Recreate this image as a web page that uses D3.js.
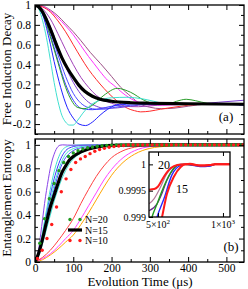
<!DOCTYPE html>
<html>
<head>
<meta charset="utf-8">
<script src="https://cdn.jsdelivr.net/npm/d3@7"></script>
<style>
  body { margin: 0; background: #fff; }
  svg { display: block; }
</style>
</head>
<body>
<div id="chart"></div>
<script>
// ---- data: free induction decay (panel a), [time µs, value] ----
const fidTurquoise = [[0,1],[10,0.96],[20,0.84],[30,0.67],[40,0.45],[50,0.22],[60,0.03],[70,-0.11],[80,-0.18],[90,-0.21],[100,-0.21],[110,-0.17],[125,-0.09],[145,-0.01],[170,0.04],[200,0.065],[240,0.07],[280,0.055],[310,0.03],[340,0.005],[380,-0.005],[450,0],[546,0]]
const fidBlue1 = [[0,1],[20,0.9],[37,0.66],[50,0.43],[67,0.17],[84,-0.03],[100,-0.14],[115,-0.2],[132,-0.215],[150,-0.18],[170,-0.11],[190,-0.05],[220,0],[260,0.01],[350,0],[450,0.005],[500,0],[546,-0.01]]
const fidBlue2 = [[0,1],[20,0.92],[40,0.7],[60,0.44],[80,0.2],[100,0.04],[115,-0.03],[130,-0.05],[150,-0.055],[170,-0.045],[200,-0.02],[240,0],[300,0.01],[400,0],[546,0]]
const fidBlue3 = [[0,1],[20,0.93],[40,0.74],[60,0.5],[80,0.28],[100,0.11],[120,0.01],[140,-0.035],[160,-0.05],[180,-0.05],[210,-0.03],[250,-0.01],[300,0],[546,0]]
const fidGreen = [[0,1],[20,0.91],[40,0.68],[60,0.42],[80,0.17],[95,0.04],[110,-0.03],[128,-0.045],[150,-0.01],[180,0.09],[215,0.16],[250,0.12],[285,0.04],[320,0],[345,0],[370,0.03],[395,0.05],[420,0.035],[450,0.01],[500,0],[546,0]]
const fidIndigo = [[0,1],[20,0.94],[40,0.78],[60,0.58],[80,0.38],[100,0.22],[120,0.1],[140,0.02],[160,-0.02],[180,-0.04],[200,-0.04],[230,-0.03],[270,-0.01],[320,0],[400,0],[480,0.02],[546,0.04]]
const fidPurple = [[0,1],[20,0.96],[40,0.86],[60,0.71],[80,0.55],[100,0.4],[120,0.27],[140,0.17],[160,0.09],[180,0.04],[200,0.01],[230,-0.02],[270,-0.025],[320,-0.01],[380,0],[546,0]]
const fidRed = [[0,1],[20,0.98],[40,0.93],[60,0.84],[80,0.73],[100,0.6],[120,0.47],[140,0.35],[160,0.25],[180,0.16],[206,0.06],[225,0],[241,-0.04],[260,-0.065],[276,-0.077],[300,-0.07],[328,-0.05],[363,-0.03],[400,-0.01],[450,0],[546,0]]
const fidMagenta = [[0,1],[20,0.985],[40,0.94],[60,0.87],[80,0.79],[100,0.7],[120,0.59],[140,0.48],[154,0.41],[170,0.33],[190,0.24],[206,0.19],[230,0.11],[258,0.04],[280,0.01],[302,-0.01],[340,-0.01],[400,0],[546,0]]
const fidMaroon = [[0,1],[20,0.99],[40,0.95],[60,0.89],[80,0.81],[100,0.73],[120,0.64],[145,0.52],[171,0.41],[200,0.28],[224,0.17],[250,0.08],[276,0],[300,-0.03],[330,-0.045],[363,-0.04],[400,-0.02],[450,0],[546,0]]
const fidBlack = [[0,1],[10,0.98],[20,0.93],[30,0.85],[40,0.76],[50,0.66],[60,0.56],[70,0.47],[85,0.36],[100,0.27],[115,0.19],[130,0.13],[150,0.08],[170,0.05],[200,0.03],[250,0.015],[300,0.01],[400,0.005],[546,0]]

// ---- data: entanglement entropy (panel b) ----
const entViolet = [[0,0],[5,0.04],[10,0.12],[15,0.24],[20,0.37],[25,0.5],[30,0.61],[35,0.71],[40,0.8],[45,0.87],[50,0.92],[55,0.96],[60,0.985],[65,0.997],[72,1],[85,0.998],[110,0.997],[150,0.999],[546,1]]
const entTurquoise1 = [[0,0],[10,0.1],[20,0.26],[30,0.44],[40,0.62],[50,0.77],[60,0.88],[70,0.95],[80,0.98],[95,0.995],[120,1],[546,1]]
const entBlue1 = [[0,0],[10,0.09],[20,0.24],[30,0.41],[40,0.57],[50,0.71],[60,0.82],[70,0.9],[80,0.95],[95,0.98],[120,0.995],[160,1],[546,1]]
const entTurquoise2 = [[0,0],[10,0.08],[20,0.22],[30,0.37],[40,0.52],[50,0.66],[60,0.77],[70,0.86],[80,0.92],[95,0.96],[120,0.985],[160,0.997],[546,1]]
const entBlue2 = [[0,0],[10,0.08],[20,0.2],[30,0.34],[40,0.49],[50,0.62],[60,0.74],[70,0.83],[80,0.89],[95,0.94],[120,0.975],[160,0.99],[220,1],[546,1]]
const entTurquoise3 = [[0,0],[10,0.06],[20,0.16],[30,0.28],[40,0.4],[50,0.52],[60,0.62],[70,0.71],[80,0.78],[95,0.86],[120,0.93],[160,0.975],[220,0.995],[546,1]]
const entRed = [[0,0],[20,0.04],[40,0.1],[60,0.18],[80,0.27],[100,0.37],[120,0.5],[140,0.62],[160,0.73],[180,0.82],[200,0.89],[230,0.95],[260,0.98],[300,0.995],[350,1],[546,1]]
const entMagenta = [[0,0],[20,0.03],[40,0.07],[60,0.13],[80,0.2],[100,0.27],[120,0.37],[140,0.48],[160,0.59],[180,0.7],[200,0.79],[230,0.89],[260,0.95],[300,0.985],[350,0.997],[546,1]]
const entOrange = [[0,0],[20,0.02],[40,0.06],[60,0.11],[80,0.17],[100,0.23],[120,0.32],[140,0.42],[160,0.53],[180,0.64],[200,0.74],[230,0.85],[260,0.92],[300,0.97],[350,0.99],[400,1],[546,1]]
const entN15 = [[0,0],[10,0.08],[20,0.2],[30,0.34],[40,0.47],[50,0.57],[60,0.67],[70,0.76],[80,0.82],[90,0.87],[100,0.9],[120,0.94],[140,0.965],[160,0.98],[180,0.99],[220,0.997],[300,1],[546,1]]

// dotted series N=20 and N=10
const n20Times = [0,12.5,25,37.5,50,62.5,75,87.5,100,112.5,125,137.5,150,162.5,175,187.5,200,212.5,225,237.5,250,262.5,275,287.5,300,312.5,325,337.5,350,362.5,375,387.5,400,412.5,425,437.5,450,462.5,475,487.5,500,512.5,525,537.5]
const n20Values = [0,0.16,0.37,0.54,0.67,0.78,0.85,0.9,0.93,0.95,0.965,0.975,0.982,0.988,0.992,0.996,0.998,1,1,1,1,1,1,1,1,1,1,1,1,1,1,1,1,1,1,1,1,1,1,1,1,1,1,1]
const n10Times = [6.25,18.75,31.25,43.75,56.25,68.75,81.25,93.75,106.25,118.75,131.25,143.75,156.25,168.75,181.25,193.75,206.25,218.75,231.25,243.75,256.25,268.75,281.25,293.75,306.25,318.75,331.25,343.75,356.25,368.75,381.25,393.75,406.25,418.75,431.25,443.75,456.25,468.75,481.25,493.75,506.25,518.75,531.25,543.75]
const n10Values = [0.03,0.1,0.2,0.32,0.47,0.6,0.71,0.79,0.85,0.88,0.9,0.925,0.945,0.96,0.97,0.98,0.985,0.99,0.995,1,1,1,1,1,1,1,1,1,1,1,1,1,1,1,1,1,1,1,1,1,1,1,1,1]

// ---- data: inset, late-time entropy ----
const insetRed1 = [[454,0.99952],[480,0.99953],[500,0.99958],[533,0.99977],[573,0.99993],[614,0.99999],[660,1],[703,1.00001],[783,0.99998],[871,0.99999],[918,1],[1078,1]]
const insetMaroon = [[454,0.99925],[480,0.99935],[511,0.99955],[550,0.99983],[593,0.99996],[637,1],[703,1],[783,0.99997],[871,0.99998],[918,1],[1078,1]]
const insetIndigo = [[454,0.99912],[495,0.99925],[522,0.99945],[550,0.9997],[593,0.99992],[637,1],[703,1],[783,0.99997],[871,0.99997],[918,1],[1078,1]]
const insetGreen = [[455,0.9988],[469,0.999],[495,0.99925],[522,0.9995],[573,0.99985],[614,0.99998],[660,1],[783,0.99997],[871,0.99998],[918,1],[1078,1]]
const insetBlue = [[480,0.9988],[495,0.999],[533,0.99935],[580,0.9998],[637,0.99998],[672,1],[783,0.99996],[871,0.99997],[918,1],[1078,1]]
const insetRed2 = [[510,0.9988],[522,0.999],[550,0.99944],[593,0.99977],[637,0.99995],[672,1],[703,1],[783,0.99998],[871,0.99999],[918,1],[1078,1]]

// ticks
const xMajor = [0, 100, 200, 300, 400, 500]
const xMinor = [50, 150, 250, 350, 450]
const topMajor = [-0.2, 0, 0.2, 0.4, 0.6, 0.8, 1]
const topMinor = [-0.3, -0.1, 0.1, 0.3, 0.5, 0.7, 0.9]
const botMajor = [0, 0.2, 0.4, 0.6, 0.8, 1]
const botMinor = [0.1, 0.3, 0.5, 0.7, 0.9]
const insetYTicks = [0.999, 0.9995, 1]
const insetYLabels = ['0.999', '0.9995', '1']

const serif = "'Liberation Serif', 'DejaVu Serif', serif"
const width = 248, height = 289

const svg = d3.select('#chart').append('svg')
  .attr('width', width)
  .attr('height', height)
  .style('font-family', serif)

const x = d3.scaleLinear().domain([0, 546]).range([35, 244])
const yTop = d3.scaleLinear().domain([-0.3, 1]).range([134, 5])
const yBot = d3.scaleLinear().domain([0, 1.05]).range([262, 139])

function clip(id, x0, y0, w, h) {
  svg.append('clipPath').attr('id', id)
    .append('rect').attr('x', x0).attr('y', y0).attr('width', w).attr('height', h)
}
clip('clipTop', 35, 5, 209, 129)
clip('clipBot', 35, 139, 209, 123)

function drawCurves(g, y, list, xs) {
  const line = d3.line()
    .x(d => xs(d[0]))
    .y(d => y(d[1]))
    .curve(d3.curveMonotoneX)
  list.forEach(s => {
    g.append('path')
      .attr('d', line(s.data))
      .attr('fill', 'none')
      .attr('stroke', s.color)
      .attr('stroke-width', s.w || 1)
  })
}

function styleAxis(g, size) {
  g.attr('font-family', serif).attr('font-size', size)
  g.select('.domain').remove()
  g.selectAll('line').attr('stroke', '#000').attr('stroke-width', 1)
}

function drawFrame(y, yMajor, yMinor, yFmt, showX) {
  const [yb, yt] = y.range()
  const ax = svg.append('g')
  // bottom
  ax.append('g').attr('transform', `translate(0,${yb})`)
    .call(d3.axisBottom(x).tickValues(xMajor).tickSize(-5).tickPadding(2)
      .tickFormat(showX ? d3.format('d') : () => ''))
    .call(g => styleAxis(g, 11.5))
  ax.append('g').attr('transform', `translate(0,${yb})`)
    .call(d3.axisBottom(x).tickValues(xMinor).tickSize(-3).tickFormat(() => ''))
    .call(g => styleAxis(g, 11.5))
  // top
  ax.append('g').attr('transform', `translate(0,${yt})`)
    .call(d3.axisTop(x).tickValues(xMajor).tickSize(-5).tickFormat(() => ''))
    .call(g => styleAxis(g, 11.5))
  ax.append('g').attr('transform', `translate(0,${yt})`)
    .call(d3.axisTop(x).tickValues(xMinor).tickSize(-3).tickFormat(() => ''))
    .call(g => styleAxis(g, 11.5))
  // left
  ax.append('g').attr('transform', `translate(${x.range()[0]},0)`)
    .call(d3.axisLeft(y).tickValues(yMajor).tickSize(-5).tickPadding(4).tickFormat(yFmt))
    .call(g => styleAxis(g, 11.5))
  ax.append('g').attr('transform', `translate(${x.range()[0]},0)`)
    .call(d3.axisLeft(y).tickValues(yMinor).tickSize(-3).tickFormat(() => ''))
    .call(g => styleAxis(g, 11.5))
  // right
  ax.append('g').attr('transform', `translate(${x.range()[1]},0)`)
    .call(d3.axisRight(y).tickValues(yMajor).tickSize(-5).tickFormat(() => ''))
    .call(g => styleAxis(g, 11.5))
  ax.append('g').attr('transform', `translate(${x.range()[1]},0)`)
    .call(d3.axisRight(y).tickValues(yMinor).tickSize(-3).tickFormat(() => ''))
    .call(g => styleAxis(g, 11.5))
  svg.append('rect')
    .attr('x', x.range()[0]).attr('y', yt)
    .attr('width', x.range()[1] - x.range()[0]).attr('height', yb - yt)
    .attr('fill', 'none').attr('stroke', '#000').attr('stroke-width', 1.3)
}

const numFmt = d => String(+d.toFixed(1))

// ---- panel (a) ----
const gTop = svg.append('g').attr('clip-path', 'url(#clipTop)')
drawCurves(gTop, yTop, [
  {data: fidMaroon, color: '#9c4f86'},
  {data: fidMagenta, color: '#ff33ff'},
  {data: fidRed, color: '#ff2a2a'},
  {data: fidPurple, color: '#a040b8'},
  {data: fidIndigo, color: '#7a3fd0'},
  {data: fidBlue3, color: '#4a4aff'},
  {data: fidBlue2, color: '#3a3aff'},
  {data: fidGreen, color: '#2a9d2a'},
  {data: fidBlue1, color: '#2222ff'},
  {data: fidTurquoise, color: '#40e0d0'},
  {data: fidBlack, color: '#000', w: 3.2}
], x)
drawFrame(yTop, topMajor, topMinor, numFmt, false)

// ---- panel (b) ----
const gBot = svg.append('g').attr('clip-path', 'url(#clipBot)')
drawCurves(gBot, yBot, [
  {data: entOrange, color: '#ffa500'},
  {data: entMagenta, color: '#ff44ff'},
  {data: entRed, color: '#ff4040'},
  {data: entTurquoise3, color: '#40e0d0'},
  {data: entBlue2, color: '#4a4aff'},
  {data: entTurquoise2, color: '#40e0d0'},
  {data: entBlue1, color: '#3a3aff'},
  {data: entTurquoise1, color: '#40e0d0'},
  {data: entViolet, color: '#8a44e8'},
  {data: entN15, color: '#000', w: 3.2}
], x)

const n20 = n20Times.map((t, i) => [t, n20Values[i]])
const n10 = n10Times.map((t, i) => [t, n10Values[i]])
gBot.selectAll('.n20').data(n20).enter().append('circle')
  .attr('cx', d => x(d[0])).attr('cy', d => yBot(d[1])).attr('r', 1.7)
  .attr('fill', '#1f9a1f')
gBot.selectAll('.n10').data(n10).enter().append('circle')
  .attr('cx', d => x(d[0])).attr('cy', d => yBot(d[1])).attr('r', 1.7)
  .attr('fill', '#ff1a1a')
drawFrame(yBot, botMajor, botMinor, numFmt, true)

// legend
const legend = svg.append('g').attr('font-size', 10)
const legendRows = [{label: 'N=20', kind: 'dots', color: '#1f9a1f'},
  {label: 'N=15', kind: 'line', color: '#000'},
  {label: 'N=10', kind: 'dots', color: '#ff1a1a'}]
legendRows.forEach((r, i) => {
  const yy = 219.5 + i * 10.5
  if (r.kind === 'dots') {
    [70, 80].forEach(cx => legend.append('circle').attr('cx', cx).attr('cy', yy).attr('r', 1.7).attr('fill', r.color))
  } else {
    legend.append('line').attr('x1', 68).attr('x2', 82).attr('y1', yy).attr('y2', yy)
      .attr('stroke', r.color).attr('stroke-width', 3.2)
  }
  legend.append('text').attr('x', 85).attr('y', yy + 3.5).text(r.label)
})

// ---- inset ----
const ix = d3.scaleLog().domain([454, 1078]).range([149, 230])
const iy = d3.scaleLinear().domain([0.999, 1.000235]).range([217, 152])
svg.append('rect').attr('x', 149).attr('y', 152).attr('width', 81).attr('height', 65).attr('fill', '#fff')
clip('clipInset', 149, 152, 81, 65)
const gIn = svg.append('g').attr('clip-path', 'url(#clipInset)')
drawCurves(gIn, iy, [
  {data: insetIndigo, color: '#6a2a8a', w: 1.2},
  {data: insetMaroon, color: '#b07a9a', w: 1.2},
  {data: insetGreen, color: '#1f9a1f', w: 1.4},
  {data: insetBlue, color: '#2a2aff', w: 1.4},
  {data: insetRed2, color: '#ff1a1a', w: 2},
  {data: insetRed1, color: '#ff1a1a', w: 2}
], ix)
const inAx = svg.append('g')
inAx.append('g').attr('transform', 'translate(149,0)')
  .call(d3.axisLeft(iy).tickValues(insetYTicks).tickSize(-4).tickPadding(3)
    .tickFormat((d, i) => insetYLabels[i]))
  .call(g => styleAxis(g, 10))
inAx.append('g').attr('transform', 'translate(0,217)')
  .call(d3.axisBottom(ix).tickValues([500, 1000]).tickSize(-4).tickFormat(() => ''))
  .call(g => styleAxis(g, 10))
inAx.append('g').attr('transform', 'translate(0,152)')
  .call(d3.axisTop(ix).tickValues([500, 1000]).tickSize(-4).tickFormat(() => ''))
  .call(g => styleAxis(g, 10))
const insetXLabels = [{v: 500, m: '5', e: '2'}, {v: 1000, m: '1', e: '3'}]
insetXLabels.forEach(l => {
  const t = svg.append('text').attr('x', ix(l.v)).attr('y', 228)
    .attr('text-anchor', 'middle').attr('font-size', 10)
  t.append('tspan').text(l.m + '×10')
  t.append('tspan').attr('dy', -4).attr('font-size', 7).text(l.e)
})
svg.append('rect').attr('x', 149).attr('y', 152).attr('width', 81).attr('height', 65)
  .attr('fill', 'none').attr('stroke', '#000').attr('stroke-width', 1.3)
svg.append('text').attr('x', 164).attr('y', 169).attr('text-anchor', 'middle').attr('font-size', 12).text('20')
svg.append('text').attr('x', 182).attr('y', 193).attr('text-anchor', 'middle').attr('font-size', 12).text('15')

// panel tags and axis titles
svg.append('text').attr('x', 226).attr('y', 121).attr('text-anchor', 'middle').attr('font-size', 13).text('(a)')
svg.append('text').attr('x', 231).attr('y', 251).attr('text-anchor', 'middle').attr('font-size', 13).text('(b)')
svg.append('text').attr('transform', 'translate(11,69) rotate(-90)')
  .attr('text-anchor', 'middle').attr('font-size', 13).text('Free Induction Decay')
svg.append('text').attr('transform', 'translate(11,198) rotate(-90)')
  .attr('text-anchor', 'middle').attr('font-size', 13).text('Entanglement Entropy')
svg.append('text').attr('x', 140).attr('y', 286)
  .attr('text-anchor', 'middle').attr('font-size', 13).text('Evolution Time (μs)')
</script>
</body>
</html>
